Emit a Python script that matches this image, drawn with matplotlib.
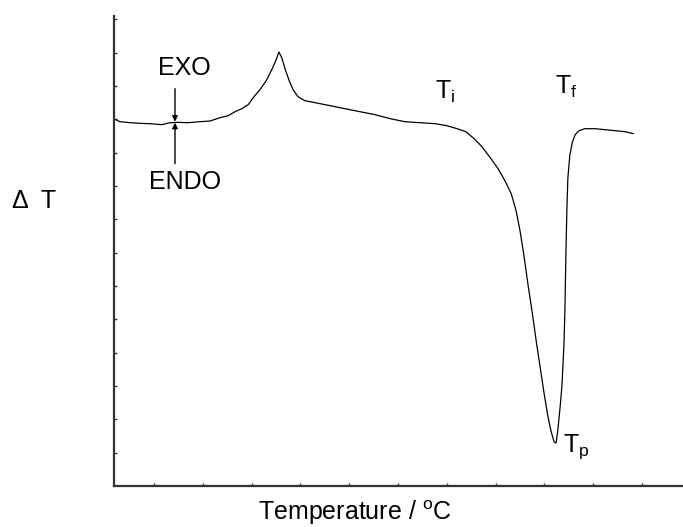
import matplotlib.pyplot as plt
import numpy as np

plt.rcParams['font.family'] = ['Liberation Sans', 'DejaVu Sans']
plt.rcParams['mathtext.fontset'] = 'custom'
plt.rcParams['mathtext.rm'] = 'Liberation Sans'
plt.rcParams['mathtext.it'] = 'Liberation Sans'

# DSC trace, in tick units (no numeric scale on the axes)
temp = [-0.78, -0.70, -0.49, -0.29, -0.08, 0.16, 0.33, 0.49, 0.70, 0.94,
        1.15, 1.35, 1.52, 1.66, 1.80, 1.93, 2.05, 2.17, 2.30, 2.42,
        2.50, 2.56, 2.62, 2.68, 2.77, 2.85, 2.95, 3.09, 3.30, 3.61,
        3.91, 4.22, 4.53, 4.84, 5.14, 5.45, 5.76, 6.00, 6.21, 6.39,
        6.56, 6.72, 6.89, 7.05, 7.19, 7.32, 7.42, 7.50, 7.58, 7.66,
        7.75, 7.83, 7.91, 7.99, 8.07, 8.14, 8.20, 8.24, 8.28, 8.32,
        8.36, 8.40, 8.42, 8.44, 8.46, 8.48, 8.52, 8.57, 8.63, 8.71,
        8.83, 9.04, 9.24, 9.45, 9.65, 9.82]
delta_t = [10.99, 10.93, 10.90, 10.88, 10.87, 10.84, 10.90, 10.91, 10.90, 10.93,
           10.95, 11.05, 11.11, 11.23, 11.32, 11.44, 11.68, 11.89, 12.16, 12.51,
           12.78, 13.02, 12.84, 12.54, 12.16, 11.89, 11.68, 11.56, 11.50, 11.41,
           11.32, 11.23, 11.14, 11.02, 10.93, 10.90, 10.87, 10.81, 10.72, 10.63,
           10.42, 10.18, 9.85, 9.52, 9.16, 8.77, 8.26, 7.66, 6.92, 6.08,
           5.21, 4.37, 3.59, 2.81, 2.10, 1.62, 1.32, 1.29, 1.74, 2.34,
           3.02, 4.22, 5.27, 6.92, 8.26, 9.22, 9.91, 10.30, 10.54, 10.66,
           10.72, 10.72, 10.69, 10.66, 10.63, 10.57]

fig = plt.figure(figsize=(6.83, 5.27), dpi=100)
ax = fig.add_axes([0.1669, 0.0778, 0.8331, 0.8918])

ax.plot(temp, delta_t, color='black', lw=0.9)

ax.set_xlim(-0.82, 10.84)
ax.set_ylim(0, 14.1)
ax.set_xticks(np.arange(0, 11))
ax.set_yticks(np.arange(1, 15))
ax.tick_params(direction='in', length=2.5, width=1, color='#333333',
               labelbottom=False, labelleft=False)
for side in ('top', 'right'):
    ax.spines[side].set_visible(False)
for side in ('left', 'bottom'):
    ax.spines[side].set_linewidth(1.6)
    ax.spines[side].set_color('#333333')

# EXO / ENDO arrows meeting on the baseline
arrow = dict(arrowstyle='-|>', color='black', lw=1, mutation_scale=8,
             shrinkA=0, shrinkB=0)
ax.annotate('', xy=(0.43, 10.93), xytext=(0.43, 11.92), arrowprops=arrow)
ax.annotate('', xy=(0.43, 10.90), xytext=(0.43, 9.67), arrowprops=arrow)
ax.text(0.62, 12.34, 'EXO', fontsize=18, ha='center', va='baseline')
ax.text(0.64, 8.91, 'ENDO', fontsize=18, ha='center', va='baseline')

ax.text(5.76, 11.62, r'$\mathrm{T_i}$', fontsize=18, va='baseline')
ax.text(8.22, 11.77, r'$\mathrm{T_f}$', fontsize=18, va='baseline')
ax.text(8.38, 1.02, r'$\mathrm{T_p}$', fontsize=18, va='baseline')

fig.text(12 / 683, 1 - 208 / 527, '\u0394  T', fontsize=18, va='baseline')
fig.text(258 / 683, 1 - 520 / 527, r'Temperature / $^{\mathrm{o}}$C',
         fontsize=18, va='baseline')

plt.savefig('out.png', dpi=100)
